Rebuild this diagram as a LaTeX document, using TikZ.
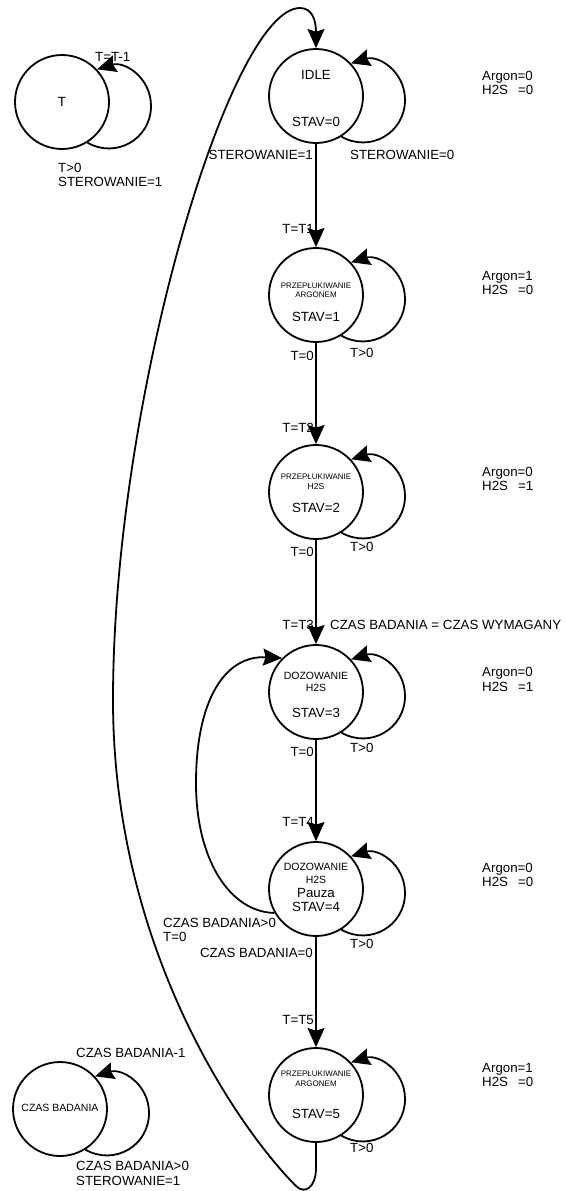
\documentclass[tikz,border=0pt]{standalone}
\usepackage{fontspec}
\setmainfont{Liberation Sans}
\usetikzlibrary{arrows.meta,calc}
\newcommand\selfloop[1]{%
  \draw[arr] (#1.-58) .. controls ($(#1)+(54,57)$) and ($(#1)+(89,37)$) .. ($(#1)+(89,4)$)
    .. controls ($(#1)+(89,-25)$) and ($(#1)+(62,-41)$) .. (#1.43);}
\begin{document}
\begin{tikzpicture}[x=1pt,y=-1pt,
  state/.style={circle,draw,line width=1.8pt,minimum size=94pt,inner sep=0pt},
  txt/.style={inner sep=0pt,font=\fontsize{13.3}{16}\selectfont,text height=9.5pt,text depth=0pt},
  small/.style={inner sep=0pt,font=\fontsize{8}{9}\selectfont,text height=5.7pt,text depth=0pt},
  smallb/.style={inner sep=0pt,font=\fontsize{8.6}{9}\selectfont,text height=6.1pt,text depth=0pt},
  mid/.style={inner sep=0pt,font=\fontsize{10.5}{12}\selectfont,text height=7.5pt,text depth=0pt},
  arr/.style={line width=1.8pt,-{Stealth[length=19pt,width=17pt,inset=2.5pt]}},
]
\useasboundingbox (0,0) rectangle (565,1191);
\fill[white] (0,0) rectangle (565,1191);

% states
\node[state] (tc) at (62,102) {};
\node[state] (idle) at (316,96) {};
\node[state] (s1) at (316,295) {};
\node[state] (s2) at (316,492) {};
\node[state] (s3) at (316,692) {};
\node[state] (s4) at (316,889) {};
\node[state] (s5) at (316,1095) {};
\node[state] (cz) at (60,1109) {};

% self loops
\selfloop{tc}
\selfloop{idle}
\selfloop{s1}
\selfloop{s2}
\selfloop{s3}
\selfloop{s4}
\selfloop{s5}
\selfloop{cz}

% main transitions
\draw[arr] (idle) -- (s1);
\draw[arr] (s1) -- (s2);
\draw[arr] (s2) -- (s3);
\draw[arr] (s3) -- (s4);
\draw[arr] (s4) -- (s5);
\draw[arr] (s4.210) .. controls (230,912) and (196,860) .. (196,783)
  .. controls (196,700) and (225,655) .. (s3.135);
\draw[arr] (s5.south) -- (316,1168) .. controls (316,1187) and (305,1195) .. (296,1186)
  .. controls (240,1130) and (113,950) .. (113,700)
  .. controls (113,400) and (230,8) .. (300,8)
  .. controls (312,8) and (316,20) .. (idle.north);

% T counter
\node[txt] (tT) at (62,102) {T};
\node[txt,anchor=west] (tT1) at (95,57) {T=T-1};
\node[txt,anchor=west] (tT2) at (58,168) {T>0};
\node[txt,anchor=west] (tT3) at (58,182) {STEROWANIE=1};

% IDLE
\node[txt] (i1) at (316,75) {IDLE};
\node[txt] (i2) at (316,122) {STAV=0};
\node[txt,anchor=east] (i3) at (313,155) {STEROWANIE=1};
\node[txt,anchor=west] (i4) at (350,155) {STEROWANIE=0};
\node[txt,anchor=west] (i5) at (482,76) {Argon=0};
\node[txt,anchor=west] (i6) at (482,90) {H2S\hspace{10pt}=0};

% state 1
\node[txt,anchor=east] (a0) at (314,229) {T=T1};
\node[small] (a1) at (316,286) {PRZEPŁUKIWANIE};
\node[small] (a2) at (316,295) {ARGONEM};
\node[txt] (a3) at (316,317) {STAV=1};
\node[txt,anchor=east] (a4) at (314,356) {T=0};
\node[txt,anchor=west] (a5) at (350,353) {T>0};
\node[txt,anchor=west] (a6) at (482,276) {Argon=1};
\node[txt,anchor=west] (a7) at (482,290) {H2S\hspace{10pt}=0};

% state 2
\node[txt,anchor=east] (b0) at (314,428) {T=T2};
\node[small] (b1) at (316,477) {PRZEPŁUKIWANIE};
\node[smallb] (b2) at (316,486) {H2S};
\node[txt] (b3) at (316,508) {STAV=2};
\node[txt,anchor=east] (b4) at (314,552) {T=0};
\node[txt,anchor=west] (b5) at (350,547) {T>0};
\node[txt,anchor=west] (b6) at (482,472) {Argon=0};
\node[txt,anchor=west] (b7) at (482,486) {H2S\hspace{10pt}=1};

% state 3
\node[txt,anchor=east] (c0) at (314,625) {T=T3};
\node[txt,anchor=west] (c8) at (330,625) {CZAS BADANIA = CZAS WYMAGANY};
\node[mid] (c1) at (316,676) {DOZOWANIE};
\node[mid] (c2) at (316,688) {H2S};
\node[txt] (c3) at (316,713) {STAV=3};
\node[txt,anchor=east] (c4) at (314,752) {T=0};
\node[txt,anchor=west] (c5) at (350,748) {T>0};
\node[txt,anchor=west] (c6) at (482,672) {Argon=0};
\node[txt,anchor=west] (c7) at (482,687) {H2S\hspace{10pt}=1};

% state 4
\node[txt,anchor=east] (d0) at (314,822) {T=T4};
\node[mid] (d1) at (316,867) {DOZOWANIE};
\node[mid] (d2) at (316,880) {H2S};
\node[txt] (d3) at (316,893) {Pauza};
\node[txt] (d4) at (316,907) {STAV=4};
\node[txt,anchor=west] (d5) at (163,923) {CZAS BADANIA>0};
\node[txt,anchor=west] (d6) at (163,937) {T=0};
\node[txt,anchor=east] (d7) at (313,953) {CZAS BADANIA=0};
\node[txt,anchor=west] (d8) at (350,944) {T>0};
\node[txt,anchor=east] (d9) at (314,1020) {T=T5};
\node[txt,anchor=west] (d10) at (482,868) {Argon=0};
\node[txt,anchor=west] (d11) at (482,882) {H2S\hspace{10pt}=0};

% state 5
\node[small] (e1) at (316,1074) {PRZEPŁUKIWANIE};
\node[small] (e2) at (316,1084) {ARGONEM};
\node[txt] (e3) at (316,1114) {STAV=5};
\node[txt,anchor=west] (e4) at (350,1148) {T>0};
\node[txt,anchor=west] (e5) at (482,1068) {Argon=1};
\node[txt,anchor=west] (e6) at (482,1082) {H2S\hspace{10pt}=0};

% CZAS BADANIA counter
\node[mid] (z1) at (60,1108) {CZAS BADANIA};
\node[txt,anchor=west] (z2) at (76,1053) {CZAS BADANIA-1};
\node[txt,anchor=west] (z3) at (76,1166) {CZAS BADANIA>0};
\node[txt,anchor=west] (z4) at (76,1181) {STEROWANIE=1};
\end{tikzpicture}
\end{document}
